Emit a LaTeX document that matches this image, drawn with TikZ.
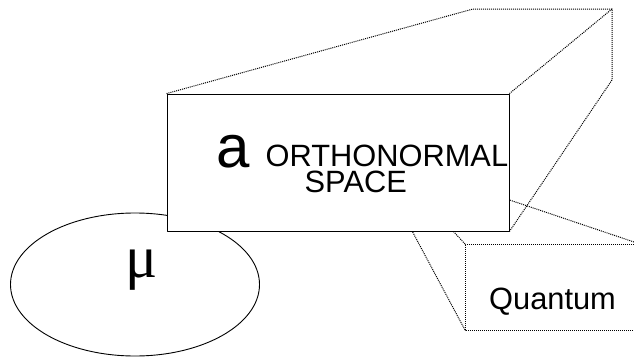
\documentclass[tikz,border=0pt]{standalone}
\usepackage{fontspec}
\setmainfont{Liberation Sans}
\newfontfamily\musym{Liberation Serif}
\usetikzlibrary{shapes.geometric,positioning,backgrounds}
\definecolor{qzedge}{RGB}{0,0,0}
\tikzset{
  facebox/.style={draw=qzedge, fill=white, line width=0.9pt, inner sep=0pt},
  dotline/.style={draw=qzedge, line width=1pt, dash pattern=on 1pt off 1pt},
  blob/.style={draw=qzedge, ellipse, line width=0.9pt, inner sep=0pt},
  bigtxt/.style={font=\fontsize{60}{60}\selectfont, inner sep=0pt},
  midtxt/.style={font=\fontsize{30.8}{30}\selectfont, inner sep=0pt, text height=22.5pt, text depth=0.5pt},
  every picture/.append style={line join=round}
}
\begin{document}
\begin{tikzpicture}[x=1pt, y=-1pt]
  \useasboundingbox (0,0) rectangle (634,356);
  \node[facebox, minimum width=342pt, minimum height=137pt] (front) at (338,162.5) {};
  % corners of the rear face
  \coordinate (bk1) at (473,9);
  \coordinate (bk2) at (612,9);
  \coordinate (bk3) at (612,80);
  % second box, partly hidden
  \coordinate (q1) at (465,244);
  \coordinate (q2) at (465,330);
  \coordinate (q3) at (634,244);
  \coordinate (q4) at (634,330);
  \coordinate (qr) at (634,242);
  \coordinate (qb1) at (430,206);
  \coordinate (qb2) at (380,171);
  \coordinate (qb3) at (480,190);
  \begin{scope}[on background layer]
    \draw[dotline] (front.north west) -- (bk1) -- (bk2) -- (bk3) -- (front.south east);
    \draw[dotline] (bk2) -- (front.north east);
    \draw[dotline] (q3) -- (q1) -- (q2) -- (q4);
    \draw[dotline] (q1) -- (qb1);
    \draw[dotline] (q2) -- (qb2);
    \draw[dotline] (qr) -- (qb3);
    \node[blob, minimum width=249pt, minimum height=143pt] (ell) at (135,284.5) {};
  \end{scope}
  \node[bigtxt, anchor=base west] (ltr) at (216,167) {a};
  \node[midtxt, anchor=base west] (orth) at (265.5,166) {ORTHONORMAL};
  \node[midtxt, anchor=base west] (spc) at (304.5,192) {SPACE};
  \node[midtxt, anchor=base west] (qtxt) at (489,309) {Quantum};
  \node[bigtxt, anchor=base] (mul) at (142,277) {\musym μ};
\end{tikzpicture}
\end{document}
